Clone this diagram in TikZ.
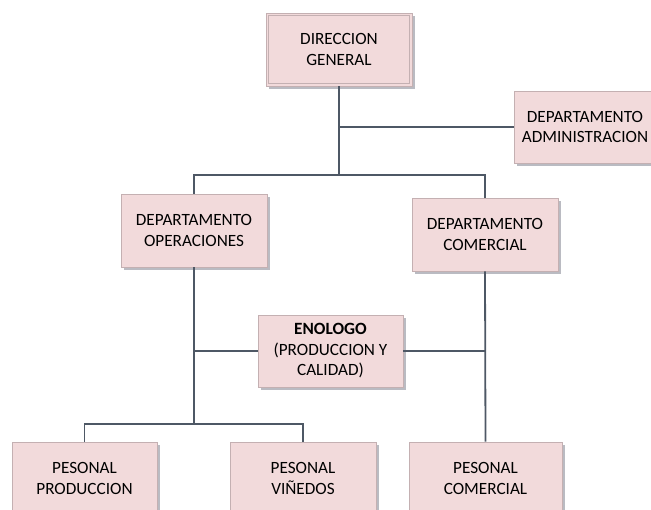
\documentclass[tikz,border=0pt]{standalone}
\usepackage{fontspec}
\setmainfont{Carlito}
\usetikzlibrary{shadows}
\definecolor{boxfill}{HTML}{F2DADB}
\definecolor{boxline}{HTML}{C4B0B2}
\definecolor{conn}{HTML}{4E5865}
\definecolor{shad}{HTML}{A9AAB3}
\begin{document}
\begin{tikzpicture}[x=1pt,y=-1pt,
  orgbox/.style={draw=boxline, line width=0.8pt, fill=boxfill,
    minimum width=146pt, minimum height=73pt, align=center, inner sep=0pt,
    font=\fontsize{17.2}{20.5}\selectfont,
    drop shadow={shadow xshift=3pt, shadow yshift=-3pt, fill=shad, opacity=0.8}},
  link/.style={draw=conn, line width=1.8pt}]
\useasboundingbox (0,0) rectangle (651,510);
\clip (0,0) rectangle (651,510);

\node[orgbox] (dg) at (339,49.5) {DIRECCION\\GENERAL};
\draw[boxline, line width=0.8pt] ([shift={(3pt,-3pt)}]dg.north west) rectangle ([shift={(-3pt,3pt)}]dg.south east);
\node[orgbox, minimum width=142pt, minimum height=72pt] (adm) at (585,127) {DEPARTAMENTO\\ADMINISTRACION};
\node[orgbox] (ops) at (194,230.5) {DEPARTAMENTO\\OPERACIONES};
\node[orgbox] (com) at (485,234.5) {DEPARTAMENTO\\COMERCIAL};
\node[orgbox, minimum width=145pt, minimum height=72pt] (eno) at (330.5,351) {\textbf{ENOLOGO}\\(PRODUCCION Y\\CALIDAD)};
\node[orgbox, minimum width=145pt] (pp) at (84.5,478.5) {PESONAL\\PRODUCCION};
\node[orgbox] (pv) at (303,478.5) {PESONAL\\VIÑEDOS};
\node[orgbox, minimum width=153pt] (pc) at (485.5,478.5) {PESONAL\\COMERCIAL};

\coordinate (j1) at (339,175);
\coordinate (j2) at (194,424);
\draw[link] (dg.south) -- (j1);
\draw[link] (ops.north) |- (j1) -| (com.north);
\draw[link] (dg.south |- adm.west) -- (adm.west);
\draw[link] (ops.south) -- (j2);
\draw[link] (pp.north) |- (j2) -| (pv.north);
\draw[link] (com.south) -- (pc.north);
\draw[link] (eno.west) -- (eno.west -| ops.south);
\draw[link] (eno.east) -- (eno.east -| com.south);
\end{tikzpicture}
\end{document}
